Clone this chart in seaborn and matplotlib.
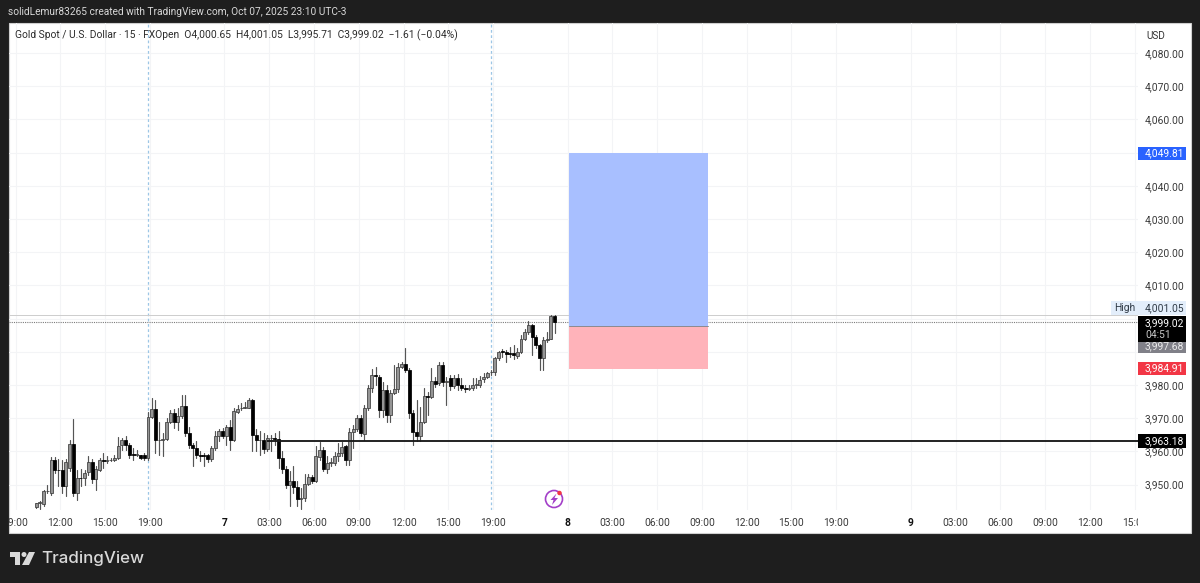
import numpy as np
import pandas as pd
import seaborn as sns
import matplotlib
matplotlib.use("Agg")
import matplotlib.pyplot as plt
from matplotlib.patches import Rectangle, Ellipse, Polygon
from matplotlib.transforms import Bbox

opens = [3943.2,3944.4,3944.2,3948,3947.5,3957.3,3954.5,3954.5,3949.5,3955,
 3962.3,3947.5,3952,3952,3953.8,3956.7,3951.7,3954.5,3957.3,3957.2,
 3957.3,3957.3,3958,3962,3963.5,3962,3959.2,3959,3958.8,3959,
 3958,3970.5,3972.7,3963.4,3963.3,3963.8,3969,3971.7,3969,3970.7,
 3973.8,3965.5,3962,3961,3959,3959,3959,3957.7,3961,3964.5,
 3966,3964.7,3967.3,3963.3,3972,3973,3973.2,3973.2,3975.5,3965,
 3963.3,3963.5,3960.7,3963.9,3964,3963.7,3958,3954.7,3950,3951,
 3949.3,3945.7,3945.9,3950.3,3952.3,3951,3958.2,3960.5,3954.8,3956.5,
 3956.5,3958.5,3959.5,3961.5,3957.3,3965.7,3966.7,3970,3965.3,3973,
 3979,3983,3982.5,3972.5,3978.5,3971,3977.7,3978.8,3985.3,3986.2,
 3984.5,3971.5,3965.7,3964.5,3969,3976.6,3976.4,3981.3,3980.5,3986,
 3981,3982,3979.8,3982,3980,3979,3978.9,3979.2,3979.9,3979.9,
 3981.7,3982.5,3983.8,3984,3988,3990.1,3990,3989.5,3989.5,3988.8,
 3990,3994,3996,3998.2,3994.5,3992,3988,3993.7,3994,4000.65]
highs = [3944.6,3945,3948.5,3950,3958.2,3958.2,3957.7,3957.3,3957.7,3963.5,
 3969.8,3954.5,3954.8,3954.5,3958.6,3957.7,3955.5,3958,3959.5,3958.5,
 3958,3959,3964.3,3964,3964.5,3962.5,3961,3960.5,3959,3959.5,
 3972,3976,3975.5,3969,3965.5,3970,3972.5,3972.7,3973,3977,
 3977,3967.5,3962.5,3963,3960,3959.5,3959.2,3961.5,3966,3966.7,
 3967,3968,3969.5,3973,3974,3974.5,3974.8,3976,3975.8,3966.7,
 3966,3965.5,3965,3965,3965.5,3966,3960,3955.5,3954,3955.7,
 3951,3949,3953.3,3953.2,3953,3961.5,3962.7,3961.3,3958.5,3958,
 3959.7,3962.5,3962.7,3962,3967,3968,3971,3971,3974,3980,
 3984.8,3985.5,3983,3981,3980,3978.5,3986,3986.5,3987,3991,
 3985,3972.5,3975.5,3973.5,3979,3978,3985,3982.5,3986.8,3987,
 3982.5,3983,3983,3983.2,3982,3980,3980,3982,3982,3982.7,
 3983.5,3984,3984.5,3988.5,3990.3,3990.7,3990.5,3991.5,3992,3991,
 3995,3997,3999.2,3998.5,3995,3992.5,3994.5,3996,4001.05,4001.05]
lows = [3943,3942.8,3943.5,3947.5,3946.8,3953.5,3949.5,3947.5,3946.7,3954,
 3946.5,3945.5,3949.5,3950,3953,3950.5,3948.5,3954,3955,3956.5,
 3957,3957,3957.8,3960.5,3960.5,3958,3957.5,3958.5,3957.8,3957.5,
 3957.5,3970,3959.5,3959,3958.5,3963.5,3968.5,3967,3966.5,3970,
 3964.5,3961,3955.7,3958,3957,3955.5,3956.8,3957,3960.5,3963,
 3964,3962,3960.5,3963,3971.5,3972.5,3973,3973,3960,3960,
 3959,3959.5,3960,3960,3962,3955,3953.5,3949,3943.5,3947.5,
 3943.5,3942.7,3945,3950,3950.5,3950.8,3957.5,3954,3953.5,3955.5,
 3956,3957,3958.5,3956,3956,3961,3966,3964.5,3963.5,3972.5,
 3978,3980,3970.5,3970.5,3969,3969,3977.3,3978,3985,3984,
 3970,3962,3963,3963,3968.5,3971,3976,3979.5,3980,3979.7,
 3974,3978.5,3979,3978.5,3978.5,3978,3978.5,3978.5,3979.2,3979.5,
 3981,3982,3983,3983,3987.5,3988.5,3987,3988.5,3987.7,3988,
 3989.5,3993.5,3995.5,3989,3991,3984.5,3984.5,3993,3993.8,3995.71]
closes = [3944.5,3944.8,3948,3948.2,3957.3,3954.5,3954.4,3949.5,3956.7,3962.3,
 3947.5,3952,3951.9,3953.5,3956.7,3951.7,3954.7,3957.3,3957,3957.3,
 3957.4,3958,3961.7,3963.5,3962,3959,3959,3959.2,3958,3958,
 3970.5,3972.7,3963.5,3963.5,3963.6,3969,3971.7,3969,3970.7,3973.8,
 3965.5,3962,3961,3959,3958.7,3958.6,3957.7,3961,3964.5,3966,
 3964.5,3967.3,3963.3,3972.2,3972.8,3973.2,3973.3,3975.5,3965,3963.3,
 3963.5,3960.7,3964,3964,3963.7,3958,3954.7,3950,3951,3949.3,
 3945.7,3945.9,3950.3,3952.3,3951,3958.5,3960.5,3954.8,3956.5,3956.7,
 3958.5,3959.5,3961.2,3957.3,3965.7,3966.7,3970,3965.5,3973,3979,
 3983,3982.8,3972.5,3978.5,3971,3977.7,3978.8,3985.5,3986.2,3984.5,
 3971.5,3965.7,3964.5,3969,3976.7,3976.4,3981.3,3980.3,3986,3980.8,
 3981.2,3979.8,3982,3980,3979,3978.8,3979.2,3980,3980.2,3981.5,
 3982.5,3983.6,3983.9,3988,3990,3989.9,3989.4,3989.3,3989,3990,
 3994,3996,3998.2,3994.5,3992,3988,3993.7,3994,4000.65,3999.02]

price_ticks = list(range(3950, 4090, 10))
hidden_ticks = [3990, 4000, 4050]
time_bars = [-6,6,18,30,50,62,74,86,98,110,122,142,154,166,178,190,202,214,234,246,258,270,282,294]
time_labels = ["09:00","12:00","15:00","19:00","7","03:00","06:00","09:00","12:00","15:00","19:00",
               "8","03:00","06:00","09:00","12:00","15:00","19:00","9","03:00","06:00","09:00","12:00","15:00"]
session_bars = [30, 122]
target_price, entry_price, stop_price = 4049.81, 3997.68, 3984.91
position_bars = (143, 180)
level_price, level_start = 3963.18, 62
high_price, last_price = 4001.05, 3999.02

FONT = "Roboto"
sns.set_theme(style="white")
plt.rcParams["font.family"] = [FONT, "DejaVu Sans"]

W, H = 1200, 583
fig = plt.figure(figsize=(12, 5.83), dpi=100, facecolor="#1e1e1e")
def fx(x): return x / W
def fy(y): return 1 - y / H

fig.add_artist(Rectangle((fx(9), fy(533)), fx(1191) - fx(9), fy(23) - fy(533),
                         transform=fig.transFigure, fc="white", ec="#cfcfcf", lw=0.8, zorder=-5))
ax = fig.add_axes([fx(9), fy(510), fx(1138) - fx(9), fy(23) - fy(510)])
ax.patch.set_alpha(0)
for s in ax.spines.values():
    s.set_visible(False)

PX = 3.73
ax.set_xlim((9 - 36.1) / PX, (1138 - 36.1) / PX)
ax.set_ylim(3980 - (510 - 385) / 3.32, 3980 + (385 - 23) / 3.32)

# grid and ticks
ax.set_yticks(price_ticks)
ax.set_yticklabels(["" if p in hidden_ticks else f"{p:,.2f}" for p in price_ticks])
ax.yaxis.tick_right()
ax.set_xticks([b + 0.5 for b in time_bars])
ax.set_xticklabels(time_labels)
ax.grid(True, color="#f3f4f6", lw=0.8)
ax.set_axisbelow(True)
ax.tick_params(axis="y", length=0, pad=5, labelsize=7.4, labelcolor="#3a3a3a")
ax.tick_params(axis="x", length=0, pad=5.5, labelsize=7.4, labelcolor="#3a3a3a")
clip = Bbox([[9, 0], [1138, H]])
for t in ax.get_xticklabels():
    t.set_clip_on(True)
    t.set_clip_box(clip)
    if t.get_text() in ("7", "8", "9"):
        t.set_fontweight("bold")
        t.set_color("#111111")

# session separators
for b in session_bars:
    ax.axvline(b, color="#9cc6e6", lw=0.9, ls=(0, (2.2, 2)), zorder=1)

# guide lines
ax.axhline(high_price, color="#cdcdcd", lw=0.7, zorder=1)
ax.axhline(last_price, color="#7c7c7c", lw=0.8, ls=(0, (1, 1)), zorder=1)

# position tool
ax.fill_between(position_bars, entry_price, target_price, color="#a8bfff", lw=0, zorder=2)
ax.fill_between(position_bars, stop_price, entry_price, color="#ffb3ba", lw=0, zorder=2)
ax.plot(position_bars, [entry_price, entry_price], color="#8a8a90", lw=0.7, zorder=2.5)

# level line
ax.plot([level_start, ax.get_xlim()[1]], [level_price, level_price], color="#1a1a1a", lw=1.35, zorder=4, solid_capstyle="butt")

# candles
df = pd.DataFrame({"bar": range(len(opens)), "open": opens, "high": highs, "low": lows, "close": closes})
wicks = df.melt(id_vars="bar", value_vars=["high", "low"], value_name="price")
sns.lineplot(data=wicks, x="bar", y="price", units="bar", estimator=None, color="#555555",
             lw=0.85, ax=ax, zorder=3, legend=False)
ax.set_xlabel(""); ax.set_ylabel("")
up = df[df.close >= df.open]
dn = df[df.close < df.open]
ax.bar(up.bar, up.close - up.open, bottom=up.open, width=0.8, color="#959595", edgecolor="#3c3c3c", lw=0.55, zorder=3.2)
ax.bar(dn.bar, dn.close - dn.open, bottom=dn.open, width=0.8, color="#000000", edgecolor="#000000", lw=0.55, zorder=3.2)

# price tags: boxes in pixel rows relative to the price's position on the axis
def price_row(price):
    return H - ax.transData.transform((0, price))[1]

def tag(price, txt, fc, col, height=13, shift=0.0, left=1138, second=None, second_col=None):
    row = price_row(price) + shift
    fig.add_artist(Rectangle((fx(left), fy(row + height / 2)), fx(1186) - fx(left), height / H,
                             transform=fig.transFigure, fc=fc, ec="none", zorder=10))
    fig.text(fx(1145), fy(row - (6 if second else 0)), txt, fontsize=7.4, color=col, ha="left", va="center", zorder=11)
    if second:
        fig.text(fx(1145), fy(row + 6), second, fontsize=7.4, color=second_col, ha="left", va="center", zorder=11)

tag(high_price, "4,001.05", "#e3eefb", "#2f3a46", height=14, shift=-7, left=1111)
fig.text(fx(1114), fy(price_row(high_price) - 7), "High", fontsize=7.4, color="#2f3a46", va="center", ha="left", zorder=11)
tag(entry_price, "3,997.68", "#808088", "#ececec", shift=20)
tag(last_price, "3,999.02", "#000000", "#ffffff", height=26, shift=7, second="04:51", second_col="#c8c8c8")
tag(target_price, "4,049.81", "#2962ff", "#ffffff")
tag(stop_price, "3,984.91", "#f23645", "#ffffff")
tag(level_price, "3,963.18", "#000000", "#ffffff", height=14)

# lightning icon
fig.add_artist(Ellipse((fx(554), fy(499)), 17 / W, 17 / H, transform=fig.transFigure, fc="white", ec="#a33fc8", lw=1.2, zorder=8))
bolt = [(556.5, 493.5), (550.5, 500), (553.5, 500), (552, 505), (558, 498), (554.5, 498)]
fig.add_artist(Polygon([(fx(a), fy(b)) for a, b in bolt], transform=fig.transFigure, fc="#a33fc8", ec="none", zorder=9))
fig.add_artist(Ellipse((fx(559.5), fy(493)), 4.5 / W, 4.5 / H, transform=fig.transFigure, fc="#f23645", ec="none", zorder=9))

# texts
fig.text(fx(8), fy(12), "solidLemur83265 created with TradingView.com, Oct 07, 2025 23:10 UTC-3",
         fontsize=7.25, color="#d8d8d8", va="center", ha="left")
fig.text(fx(15), fy(35), "Gold Spot / U.S. Dollar \u00b7 15 \u00b7 FXOpen  O4,000.65  H4,001.05  L3,995.71  C3,999.02  \u22121.61 (\u22120.04%)",
         fontsize=7.35, color="#2b2b2b", va="center", ha="left", zorder=12)
fig.text(fx(1156), fy(36), "USD", fontsize=7.2, color="#333333", va="center", ha="center", zorder=12)

# logo
logo = "#d9d9d9"
fig.add_artist(Polygon([(fx(10), fy(552)), (fx(20), fy(552)), (fx(20), fy(565)), (fx(15), fy(565)), (fx(15), fy(557)), (fx(10), fy(557))],
                       transform=fig.transFigure, fc=logo, ec="none"))
fig.add_artist(Ellipse((fx(24), fy(554.5)), 5 / W, 5 / H, transform=fig.transFigure, fc=logo, ec="none"))
fig.add_artist(Polygon([(fx(29), fy(552)), (fx(35), fy(552)), (fx(29), fy(565)), (fx(22), fy(565))],
                       transform=fig.transFigure, fc=logo, ec="none"))
fig.text(fx(41), fy(558), "TradingView", fontsize=12.2, color=logo, va="center", ha="left", family="Inter", fontweight="medium")

fig.savefig("out.png", dpi=100, facecolor=fig.get_facecolor())
